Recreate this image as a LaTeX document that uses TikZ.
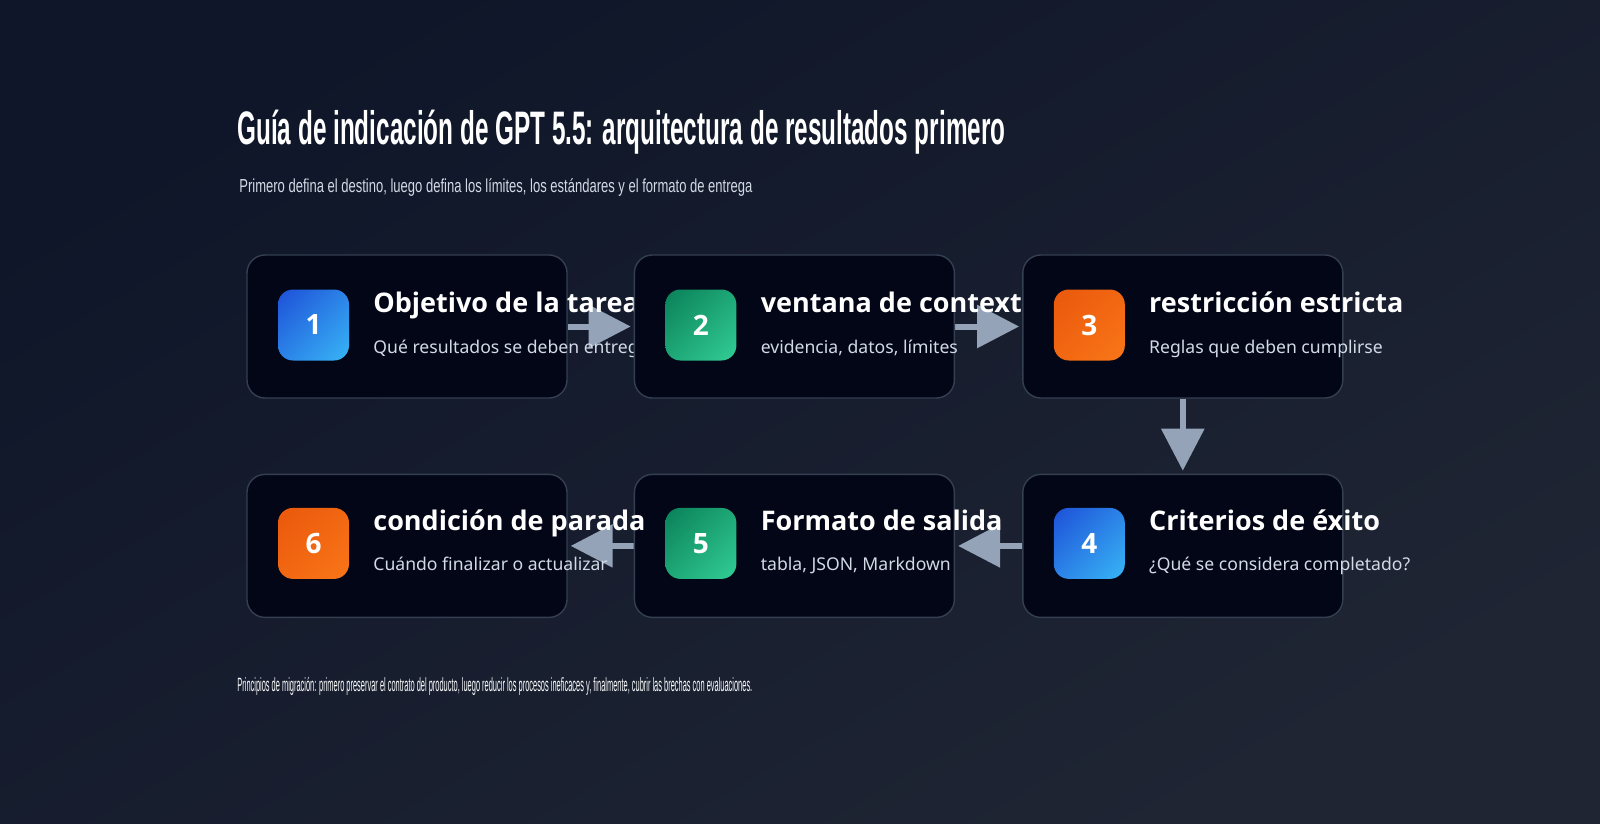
\documentclass[tikz,border=0pt]{standalone}
\usepackage{fontspec}
\setmainfont{Noto Sans}
\newfontfamily\narrowfont{Liberation Sans}
\newfontfamily\headfont{Open Sans}
\usepackage{graphicx}
\usetikzlibrary{arrows.meta,calc,positioning,shadings}

\definecolor{bgtop}{RGB}{15,22,41}
\definecolor{bgbot}{RGB}{31,37,51}
\definecolor{cardfill}{RGB}{3,6,22}
\definecolor{cardline}{RGB}{52,63,82}
\definecolor{arrowc}{RGB}{148,163,184}
\definecolor{subc}{RGB}{210,218,230}
\definecolor{blueA}{RGB}{30,80,216}
\definecolor{blueB}{RGB}{56,182,246}
\definecolor{greenA}{RGB}{10,128,88}
\definecolor{greenB}{RGB}{50,206,150}
\definecolor{orangeA}{RGB}{234,88,12}
\definecolor{orangeB}{RGB}{249,118,24}

\pgfdeclarelayer{back}
\pgfdeclarelayer{links}
\pgfsetlayers{back,links,main}

\tikzset{
  card/.style={draw=cardline,fill=cardfill,line width=0.7pt,rounded corners=9pt,
               minimum width=160pt,minimum height=71.5pt,inner sep=0pt},
  badge/.style={rounded corners=7.5pt,minimum size=35.5pt,inner sep=0pt,text=white,
                font=\headfont\bfseries\fontsize{14}{14}\selectfont},
  bluebadge/.style={badge,upper left=blueA,lower right=blueB,
                    upper right=blueA!50!blueB,lower left=blueA!50!blueB},
  greenbadge/.style={badge,upper left=greenA,lower right=greenB,
                     upper right=greenA!50!greenB,lower left=greenA!50!greenB},
  orangebadge/.style={badge,upper left=orangeA,lower right=orangeB,
                      upper right=orangeA!50!orangeB,lower left=orangeA!50!orangeB},
  head/.style={anchor=base west,inner sep=0pt,text=white,
               font=\headfont\bfseries\fontsize{13.5}{16}\selectfont},
  sub/.style={anchor=base west,inner sep=0pt,text=subc,
              font=\fontsize{8.8}{11}\selectfont},
  flow/.style={draw=arrowc,line width=3pt,-{Triangle[length=21pt,width=21pt]},
               shorten >=1.5pt},
}

\begin{document}
\begin{tikzpicture}[x=0.5pt,y=-0.5pt]
%
  \begin{pgfonlayer}{back}
    \shade[top color=bgtop,bottom color=bgbot,shading angle=30] (0,0) rectangle (1600,824);
  \end{pgfonlayer}
  \useasboundingbox (0,0) rectangle (1600,824);
%
  \node[anchor=base west,inner sep=0pt,text=white] (title) at (237,145)
    {\resizebox{384pt}{\height}{\narrowfont\bfseries\fontsize{23.5}{26}\selectfont
     Guía de indicación de GPT 5.5: arquitectura de resultados primero}};
  \node[anchor=base west,inner sep=0pt,text=subc] (lead) at (239,192)
    {\resizebox{256.5pt}{\height}{\narrowfont\fontsize{9.4}{11}\selectfont
     Primero defina el destino, luego defina los límites, los estándares y el formato de entrega}};
%
  \node[card] (goal) at (407,326.5) {};
  \node[bluebadge] (goal-n) at ($(goal.center)+(-93.5,-1.5)$) {1};
  \node[head] (goal-t) at ($(goal.center)+(-34,-14.5)$) {Objetivo de la tarea};
  \node[sub] (goal-s) at ($(goal.center)+(-34,26.5)$) {Qué resultados se deben entregar};
%
  \node[card,right=33pt of goal] (ctx) {};
  \node[greenbadge] (ctx-n) at ($(ctx.center)+(-93.5,-1.5)$) {2};
  \node[head] (ctx-t) at ($(ctx.center)+(-34,-14.5)$) {ventana de contexto};
  \node[sub] (ctx-s) at ($(ctx.center)+(-34,26.5)$) {evidencia, datos, límites};
%
  \node[card,right=33.5pt of ctx] (rule) {};
  \node[orangebadge] (rule-n) at ($(rule.center)+(-93.5,-1.5)$) {3};
  \node[head] (rule-t) at ($(rule.center)+(-34,-14.5)$) {restricción estricta};
  \node[sub] (rule-s) at ($(rule.center)+(-34,26.5)$) {Reglas que deben cumplirse};
%
  \node[card,below=37.5pt of rule] (crit) {};
  \node[bluebadge] (crit-n) at ($(crit.center)+(-93.5,-2.5)$) {4};
  \node[head] (crit-t) at ($(crit.center)+(-34,-15)$) {Criterios de éxito};
  \node[sub] (crit-s) at ($(crit.center)+(-34,25)$) {¿Qué se considera completado?};
%
  \node[card,left=33.5pt of crit] (fmt) {};
  \node[greenbadge] (fmt-n) at ($(fmt.center)+(-93.5,-2.5)$) {5};
  \node[head] (fmt-t) at ($(fmt.center)+(-34,-15)$) {Formato de salida};
  \node[sub] (fmt-s) at ($(fmt.center)+(-34,25)$) {tabla, JSON, Markdown};
%
  \node[card,left=33pt of fmt] (stop) {};
  \node[orangebadge] (stop-n) at ($(stop.center)+(-93.5,-2.5)$) {6};
  \node[head] (stop-t) at ($(stop.center)+(-34,-15)$) {condición de parada};
  \node[sub] (stop-s) at ($(stop.center)+(-34,25)$) {Cuándo finalizar o actualizar};
%
  \begin{pgfonlayer}{links}
    \draw[flow] (goal) -- (ctx);
    \draw[flow] (ctx) -- (rule);
    \draw[flow] (rule) -- (crit);
    \draw[flow] (crit) -- (fmt);
    \draw[flow] (fmt) -- (stop);
  \end{pgfonlayer}
%
  \node[anchor=base west,inner sep=0pt,text=white!92!subc] (note) at (237,691)
    {\resizebox{257.5pt}{\height}{\narrowfont\fontsize{9.6}{11}\selectfont
     Principios de migración: primero preservar el contrato del producto, luego reducir los procesos ineficaces y, finalmente, cubrir las brechas con evaluaciones.}};

\end{tikzpicture}
\end{document}
